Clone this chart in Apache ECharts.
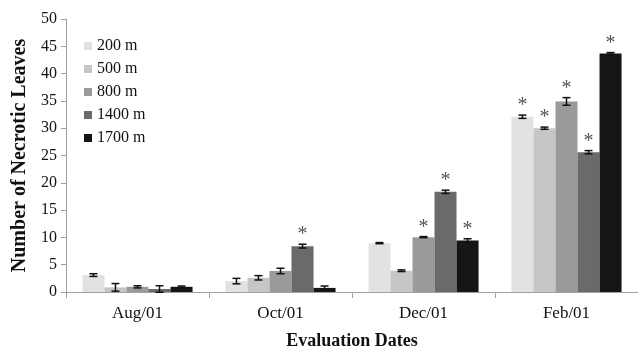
<!DOCTYPE html>
<html><head><meta charset="utf-8">
<script src="https://cdn.jsdelivr.net/npm/echarts@6/dist/echarts.min.js"></script>
<style>html,body{margin:0;padding:0;background:#fff}#c{width:638px;height:353px}</style>
</head><body><div id="c"></div>
<script>
var categories = ['Aug/01', 'Oct/01', 'Dec/01', 'Feb/01'];
var seriesNames = ['200 m', '500 m', '800 m', '1400 m', '1700 m'];
var colors = ['#e2e2e2', '#c6c6c6', '#9a9a9a', '#6a6a6a', '#151515'];
var v200 = [3.1, 2.0, 8.95, 32.1];
var v500 = [0.85, 2.6, 3.9, 30.0];
var v800 = [0.95, 3.85, 10.05, 34.9];
var v1400 = [0.55, 8.4, 18.35, 25.6];
var v1700 = [0.95, 0.75, 9.45, 43.7];
var e200 = [0.25, 0.5, 0.1, 0.3];
var e500 = [0.7, 0.4, 0.15, 0.2];
var e800 = [0.2, 0.5, 0.1, 0.7];
var e1400 = [0.6, 0.35, 0.3, 0.3];
var e1700 = [0.15, 0.35, 0.3, 0.15];
var sig200 = [0, 0, 0, 1];
var sig500 = [0, 0, 0, 1];
var sig800 = [0, 0, 1, 1];
var sig1400 = [0, 1, 1, 1];
var sig1700 = [0, 0, 1, 1];
var yTicks = [0, 5, 10, 15, 20, 25, 30, 35, 40, 45, 50];

var values = [v200, v500, v800, v1400, v1700];
var errs = [e200, e500, e800, e1400, e1700];
var sigs = [sig200, sig500, sig800, sig1400, sig1700];
var GAP = 0.23;
var FONT = '"Liberation Serif", "Times New Roman", serif';

var series = [];
seriesNames.forEach(function (n, i) {
  series.push({
    name: n, type: 'bar', data: values[i], barGap: '0%', barCategoryGap: (GAP * 100) + '%',
    itemStyle: { color: colors[i] }
  });
});
seriesNames.forEach(function (n, i) {
  var data = categories.map(function (c, k) { return [k, values[i][k], errs[i][k], sigs[i][k]]; });
  series.push({
    type: 'custom', name: n + ' err', data: data, z: 10, silent: true,
    renderItem: function (params, api) {
      var k = api.value(0), v = api.value(1), e = api.value(2), s = api.value(3);
      var catW = api.size([1, 0])[0];
      var bw = catW * (1 - GAP) / 5;
      var cx = api.coord([k, v])[0] + (i - 2) * bw;
      var yt = api.coord([k, v + e])[1];
      var yb = api.coord([k, v - e])[1];
      var hw = 4;
      var st = { stroke: '#111', lineWidth: 1.5 };
      var ch = [
        { type: 'line', shape: { x1: cx, y1: yt, x2: cx, y2: yb }, style: st },
        { type: 'line', shape: { x1: cx - hw, y1: yt, x2: cx + hw, y2: yt }, style: st },
        { type: 'line', shape: { x1: cx - hw, y1: yb, x2: cx + hw, y2: yb }, style: st }
      ];
      if (s) {
        ch.push({ type: 'text', style: { text: '*', x: cx, y: yt + 1, textAlign: 'center', textVerticalAlign: 'bottom', fill: '#555', font: '20px ' + FONT } });
      }
      return { type: 'group', children: ch };
    }
  });
});

var chart = echarts.init(document.getElementById('c'));
chart.setOption({
  animation: false,
  backgroundColor: '#fff',
  legend: {
    data: seriesNames, orient: 'vertical', left: 79, top: 33, itemWidth: 8, itemHeight: 8, itemGap: 7,
    icon: 'rect', textStyle: { fontFamily: FONT, fontSize: 16, color: '#111', lineHeight: 16 }
  },
  grid: { left: 66, right: 0, top: 19, bottom: 61, containLabel: false, outerBoundsMode: 'none' },
  xAxis: {
    type: 'category', data: categories,
    name: 'Evaluation Dates', nameLocation: 'middle', nameGap: 40,
    nameTextStyle: { fontFamily: FONT, fontSize: 18, fontWeight: 'bold', color: '#111' },
    axisLine: { lineStyle: { color: '#a0a0a0', width: 1 } },
    axisTick: { show: true, alignWithLabel: false, length: 6, lineStyle: { color: '#a0a0a0' } },
    axisLabel: { fontFamily: FONT, fontSize: 17, color: '#111', margin: 13 }
  },
  yAxis: {
    type: 'value', min: 0, max: 50, interval: 5,
    name: 'Number of Necrotic Leaves', nameLocation: 'middle', nameGap: 35,
    nameTextStyle: { fontFamily: FONT, fontSize: 20, fontWeight: 'bold', color: '#111' },
    axisLine: { show: true, lineStyle: { color: '#a0a0a0', width: 1 } },
    axisTick: { show: true, length: 5, lineStyle: { color: '#a0a0a0' } },
    splitLine: { show: false },
    axisLabel: { fontFamily: FONT, fontSize: 16, color: '#111', margin: 9,
      formatter: function (v) { return yTicks.indexOf(v) >= 0 ? String(v) : ''; } }
  },
  series: series
});
</script></body></html>
